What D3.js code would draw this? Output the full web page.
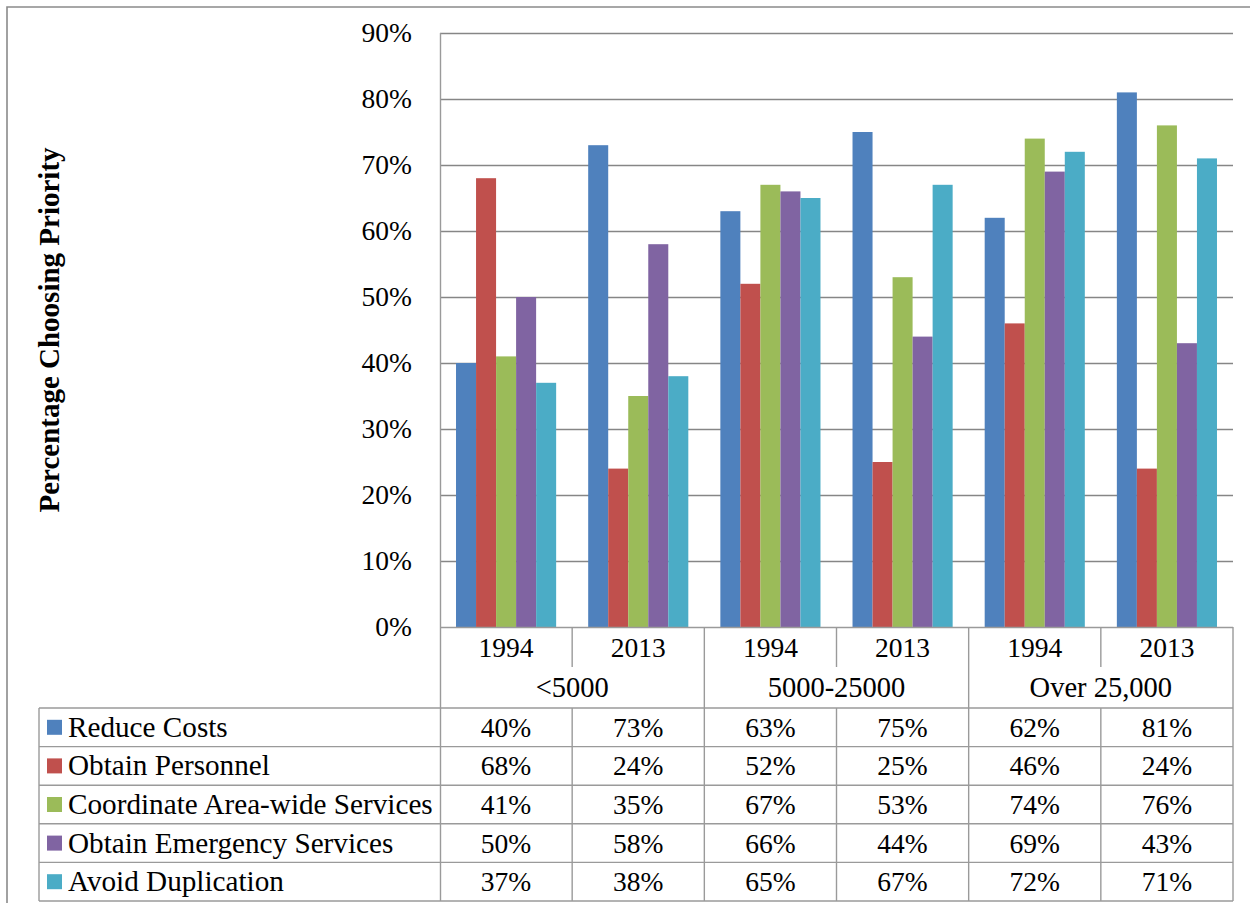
<!DOCTYPE html>
<html>
<head>
<meta charset="utf-8">
<script src="https://cdn.jsdelivr.net/npm/d3@7"></script>
<style>
  html, body { margin: 0; padding: 0; background: #fff; }
  svg { display: block; }
  text { font-family: "Liberation Serif", "Times New Roman", serif; fill: #000; }
</style>
</head>
<body>
<svg id="chart" width="1250" height="903"></svg>
<script>
// Population groups and survey years
const groups = ["<5000", "5000-25000", "Over 25,000"];
const years = ["1994", "2013"];

// Priority series (share of respondents choosing each priority)
const seriesNames = [
  "Reduce Costs",
  "Obtain Personnel",
  "Coordinate Area-wide Services",
  "Obtain Emergency Services",
  "Avoid Duplication"
];
const reduceCosts       = [0.40, 0.73, 0.63, 0.75, 0.62, 0.81];
const obtainPersonnel   = [0.68, 0.24, 0.52, 0.25, 0.46, 0.24];
const coordinateArea    = [0.41, 0.35, 0.67, 0.53, 0.74, 0.76];
const obtainEmergency   = [0.50, 0.58, 0.66, 0.44, 0.69, 0.43];
const avoidDuplication  = [0.37, 0.38, 0.65, 0.67, 0.72, 0.71];
const seriesValues = [reduceCosts, obtainPersonnel, coordinateArea, obtainEmergency, avoidDuplication];
const seriesColors = ["#4F81BD", "#C0504D", "#9BBB59", "#8064A2", "#4BACC6"];

const yTicks = [0, 0.1, 0.2, 0.3, 0.4, 0.5, 0.6, 0.7, 0.8, 0.9];

// slot keys: one per group/year pair
const slots = [];
groups.forEach(g => years.forEach(y => slots.push(g + "|" + y)));

const svg = d3.select("#chart");
const gridColor = "#868686";
const borderColor = "#9a9a9a";
const numSize = 27.5;     // numbers (ticks, years, values)
const labelSize = 29.2;   // series names
const groupSize = 28.5;   // group captions

const plot = { left: 440, right: 1233, top: 33, bottom: 627 };
const tableLeft = 39;
const yearRowBottom = 667;
const groupRowBottom = 708;
const rowH = 38.6;

const x = d3.scaleBand().domain(slots).range([plot.left, plot.right]).paddingInner(0).paddingOuter(0);
const xInner = d3.scaleBand().domain(d3.range(seriesNames.length)).range([0, x.bandwidth()])
  .paddingInner(0).paddingOuter(0.8);
const y = d3.scaleLinear().domain([0, 0.9]).range([plot.bottom, plot.top]);

// outer frame
svg.append("path").attr("d", `M7,903 L7,7 L1250,7`).attr("fill", "none")
  .attr("stroke", "#8a8a8a").attr("stroke-width", 1.6);

// horizontal gridlines
svg.append("g").selectAll("line").data(yTicks.slice(1)).join("line")
  .attr("x1", plot.left).attr("x2", plot.right)
  .attr("y1", d => Math.round(y(d)) + 0.5).attr("y2", d => Math.round(y(d)) + 0.5)
  .attr("stroke", gridColor).attr("stroke-width", 1.3);

// y axis labels
const yAxis = d3.axisLeft(y).tickValues(yTicks).tickFormat(d3.format(".0%")).tickSize(0).tickPadding(28);
const yg = svg.append("g").attr("transform", `translate(${plot.left},0)`).call(yAxis);
yg.select(".domain").remove();
yg.selectAll("text").attr("font-size", numSize).attr("fill", "#000");

// bars
const barG = svg.append("g");
seriesValues.forEach((vals, si) => {
  barG.append("g").selectAll("rect").data(vals).join("rect")
    .attr("x", (d, i) => x(slots[i]) + xInner(si))
    .attr("width", xInner.bandwidth())
    .attr("y", d => y(d))
    .attr("height", d => y(0) - y(d))
    .attr("fill", seriesColors[si]);
});

// axis line at left of plot, extending through the table
svg.append("line").attr("x1", plot.left + 0.5).attr("x2", plot.left + 0.5)
  .attr("y1", plot.top).attr("y2", groupRowBottom + rowH * 5)
  .attr("stroke", borderColor).attr("stroke-width", 1.4);

// data table borders
const tb = svg.append("g").attr("stroke", borderColor).attr("stroke-width", 1.4).attr("fill", "none");
const tableBottom = groupRowBottom + rowH * 5;
// base line of the plot / top of the year row
tb.append("line").attr("x1", plot.left).attr("x2", plot.right).attr("y1", plot.bottom + 0.5).attr("y2", plot.bottom + 0.5);
// right border of the table
tb.append("line").attr("x1", plot.right).attr("x2", plot.right).attr("y1", plot.bottom).attr("y2", tableBottom);
// separators between years (year row) and between groups (full height)
slots.forEach((s, i) => {
  if (i === 0) return;
  const xx = x(s);
  const isGroupEdge = i % years.length === 0;
  tb.append("line").attr("x1", xx).attr("x2", xx)
    .attr("y1", plot.bottom).attr("y2", isGroupEdge ? tableBottom : yearRowBottom);
  if (!isGroupEdge) {
    tb.append("line").attr("x1", xx).attr("x2", xx)
      .attr("y1", groupRowBottom).attr("y2", tableBottom);
  }
});
// series rows
tb.append("line").attr("x1", tableLeft).attr("x2", tableLeft).attr("y1", groupRowBottom).attr("y2", tableBottom);
d3.range(6).forEach(r => {
  const yy = groupRowBottom + r * rowH;
  tb.append("line").attr("x1", tableLeft).attr("x2", plot.right).attr("y1", yy).attr("y2", yy);
});

// year labels
svg.append("g").selectAll("text").data(slots).join("text")
  .attr("x", d => x(d) + x.bandwidth() / 2)
  .attr("y", 657)
  .attr("text-anchor", "middle")
  .attr("font-size", numSize)
  .text(d => d.split("|")[1]);

// group labels
const groupW = (plot.right - plot.left) / groups.length;
svg.append("g").selectAll("text").data(groups).join("text")
  .attr("x", (d, i) => plot.left + groupW * i + groupW / 2)
  .attr("y", 697)
  .attr("text-anchor", "middle")
  .attr("font-size", groupSize)
  .text(d => d);

// legend column and values
seriesNames.forEach((name, si) => {
  const top = groupRowBottom + si * rowH;
  const mid = top + rowH / 2;
  svg.append("rect").attr("x", 47).attr("y", mid - 7.5).attr("width", 15).attr("height", 15)
    .attr("fill", seriesColors[si]);
  svg.append("text").attr("x", 68).attr("y", mid + 9.5).attr("font-size", labelSize).text(name);
  svg.append("g").selectAll("text").data(seriesValues[si]).join("text")
    .attr("x", (d, i) => x(slots[i]) + x.bandwidth() / 2)
    .attr("y", mid + 9.5)
    .attr("text-anchor", "middle")
    .attr("font-size", numSize)
    .text(d => d3.format(".0%")(d));
});

// y axis title
svg.append("text")
  .attr("transform", `translate(59,${330}) rotate(-90)`)
  .attr("text-anchor", "middle")
  .attr("font-size", 29)
  .attr("font-weight", "bold")
  .text("Percentage Choosing Priority");
</script>
</body>
</html>
